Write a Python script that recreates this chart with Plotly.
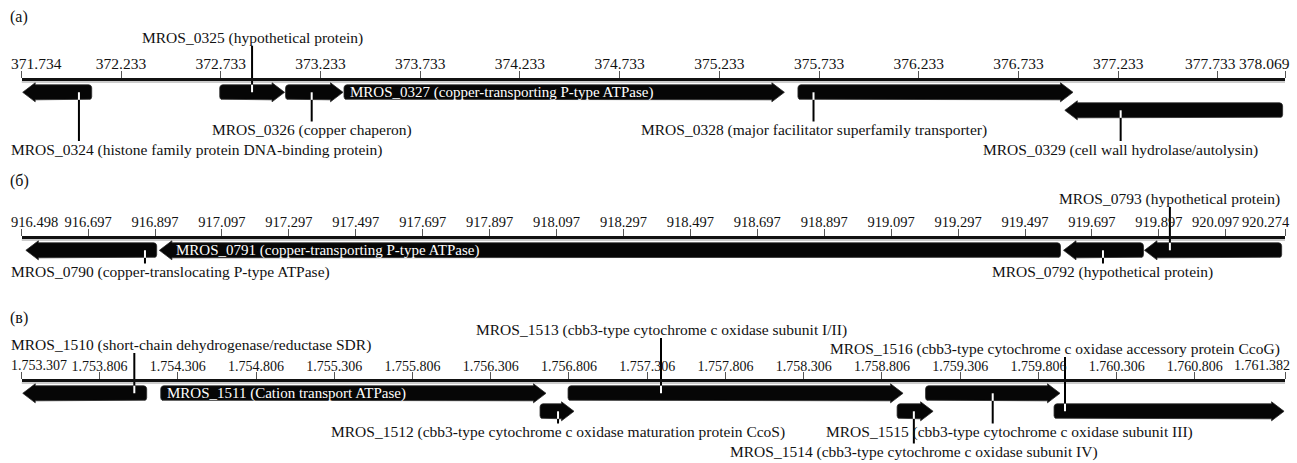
import math
import plotly.graph_objects as go

W, H = 1297, 463
PX0, PX1 = 21.5, 1285.0          # horizontal extent of every scale (px)
FONT = "Liberation Serif, Times New Roman, serif"

# ----------------------------- data -----------------------------
a_ticks = [371.734, 372.233, 372.733, 373.233, 373.733, 374.233, 374.733,
           375.233, 375.733, 376.233, 376.733, 377.233, 377.733, 378.069]
a_ticktext = ["371.734", "372.233", "372.733", "373.233", "373.733", "374.233", "374.733",
              "375.233", "375.733", "376.233", "376.733", "377.233", "377.733", "378.069"]
a_genes = ["MROS_0324", "MROS_0325", "MROS_0326", "MROS_0327", "MROS_0328", "MROS_0329"]
a_products = ["histone family protein DNA-binding protein", "hypothetical protein",
              "copper chaperon", "copper-transporting P-type ATPase",
              "major facilitator superfamily transporter", "cell wall hydrolase/autolysin"]
a_start = [371.740, 372.728, 373.058, 373.351, 375.627, 376.965]
a_end = [372.086, 373.053, 373.346, 375.559, 377.006, 378.057]
a_strand = [-1, 1, 1, 1, 1, -1]
a_track = [1, 1, 1, 1, 1, 2]

b_ticks = [916.498, 916.697, 916.897, 917.097, 917.297, 917.497, 917.697, 917.897,
           918.097, 918.297, 918.497, 918.697, 918.897, 919.097, 919.297, 919.497,
           919.697, 919.897, 920.097, 920.274]
b_ticktext = ["916.498", "916.697", "916.897", "917.097", "917.297", "917.497", "917.697",
              "917.897", "918.097", "918.297", "918.497", "918.697", "918.897", "919.097",
              "919.297", "919.497", "919.697", "919.897", "920.097", "920.274"]
b_genes = ["MROS_0790", "MROS_0791", "MROS_0792", "MROS_0793"]
b_products = ["copper-translocating P-type ATPase", "copper-transporting P-type ATPase",
              "hypothetical protein", "hypothetical protein"]
b_start = [916.511, 916.910, 919.612, 919.854]
b_end = [916.902, 919.603, 919.851, 920.264]
b_strand = [-1, -1, -1, -1]
b_track = [1, 1, 1, 1]

c_ticks = [1753.307, 1753.806, 1754.306, 1754.806, 1755.306, 1755.806, 1756.306,
           1756.806, 1757.306, 1757.806, 1758.306, 1758.806, 1759.306, 1759.806,
           1760.306, 1760.806, 1761.382]
c_ticktext = ["1.753.307", "1.753.806", "1.754.306", "1.754.806", "1.755.306", "1.755.806",
              "1.756.306", "1.756.806", "1.757.306", "1.757.806", "1.758.306", "1.758.806",
              "1.759.306", "1.759.806", "1.760.306", "1.760.806", "1.761.382"]
c_genes = ["MROS_1510", "MROS_1511", "MROS_1512", "MROS_1513", "MROS_1514", "MROS_1515",
           "MROS_1516"]
c_products = ["short-chain dehydrogenase/reductase SDR", "Cation transport ATPase",
              "cbb3-type cytochrome c oxidase maturation protein CcoS",
              "cbb3-type cytochrome c oxidase subunit I/II",
              "cbb3-type cytochrome c oxidase subunit IV",
              "cbb3-type cytochrome c oxidase subunit III",
              "cbb3-type cytochrome c oxidase accessory protein CcoG"]
c_start = [1753.315, 1754.197, 1756.621, 1756.800, 1758.903, 1759.085, 1759.906]
c_end = [1754.107, 1756.659, 1756.838, 1758.941, 1759.133, 1759.944, 1761.376]
c_strand = [-1, 1, 1, 1, 1, 1, 1]
c_track = [1, 1, 2, 1, 2, 1, 2]

# ----------------------------- layout / style -----------------------------
# label placement: leader position (kb), label centre y (px), alignment
LABELS = {
    "MROS_0324": dict(at=372.022, y=149.5, align="left"),
    "MROS_0325": dict(at=372.890, y=38),
    "MROS_0326": dict(at=373.189, y=130),
    "MROS_0327": dict(inside=True),
    "MROS_0328": dict(at=375.705, y=130),
    "MROS_0329": dict(at=377.245, y=149.5),
    "MROS_0790": dict(at=916.867, y=272, align="left"),
    "MROS_0791": dict(inside=True),
    "MROS_0792": dict(at=919.730, y=272),
    "MROS_0793": dict(at=919.930, y=199),
    "MROS_1510": dict(at=1754.028, y=345, align="left"),
    "MROS_1511": dict(inside=True),
    "MROS_1512": dict(at=1756.736, y=432),
    "MROS_1513": dict(at=1757.394, y=330),
    "MROS_1514": dict(at=1759.010, y=452),
    "MROS_1515": dict(at=1759.514, y=432, dx=17),
    "MROS_1516": dict(at=1759.976, y=349, dx=-10),
}

PANELS = [
    dict(ax="x", title="(a)", title_y=17, axis_y=79, tick_size=15.5,
         ticks=a_ticks, ticktext=a_ticktext, genes=a_genes, products=a_products,
         start=a_start, end=a_end, strand=a_strand, track=a_track),
    dict(ax="x2", title="(б)", title_y=181, axis_y=237, tick_size=14.5,
         ticks=b_ticks, ticktext=b_ticktext, genes=b_genes, products=b_products,
         start=b_start, end=b_end, strand=b_strand, track=b_track),
    dict(ax="x3", title="(в)", title_y=318, axis_y=380, tick_size=14,
         ticks=c_ticks, ticktext=c_ticktext, genes=c_genes, products=c_products,
         start=c_start, end=c_end, strand=c_strand, track=c_track),
]

TRACK_OFFSET = {1: 13.3, 2: 31.3}
BODY_HALF, HEAD_HALF, HEAD_LEN, RADIUS = 7.5, 9.5, 12.5, 3.0
LABEL_SIZE, INSIDE_SIZE = 15.5, 15
TICKLEN, TICKPAD, TICK_SHIFT = 7, -2, -4
EDGE_LEFT, EDGE_RIGHT = 9, 1292   # px bounds for the end-of-scale labels
TICK_GAP = 4
GENE_FILL = "#060606"


def num_width(txt, size):
    """Approximate width (px) of a numeric label in a Times-like font."""
    return size * sum(0.25 if ch == "." else 0.5 for ch in txt)


def arrow_px(s, e, strand, yc):
    """Arrow outline in pixel space (x px, y px)."""
    length = e - s
    L = min(HEAD_LEN, length * 0.7)
    r = RADIUS
    b, h = BODY_HALF, HEAD_HALF
    base = length - L
    xs, ys = [], []
    for k in range(6):
        t = math.radians(90 * k / 5)
        xs.append(r - r * math.cos(t)); ys.append(yc - b + r - r * math.sin(t))
    xs += [base, base, length, base, base]
    ys += [yc - b, yc - h, yc, yc + h, yc + b]
    for k in range(6):
        t = math.radians(90 * k / 5)
        xs.append(r - r * math.sin(t)); ys.append(yc + b - r + r * math.cos(t))
    xs.append(xs[0]); ys.append(ys[0])
    if strand > 0:
        xs = [s + x for x in xs]
    else:
        xs = [e - x for x in xs]
    return xs, ys


fig = go.Figure()
annotations = []

for i, p in enumerate(PANELS):
    r0, r1 = p["ticks"][0], p["ticks"][-1]
    kpp = (r1 - r0) / (PX1 - PX0)
    to_px = lambda v, r0=r0, kpp=kpp: PX0 + (v - r0) / kpp
    to_kb = lambda x, r0=r0, kpp=kpp: r0 + (x - PX0) * kpp
    ay = p["axis_y"]
    ts = p["tick_size"]
    tick_font = dict(family=FONT, size=ts, color="#111")
    label_y = ay - TICKLEN - TICKPAD
    axname = "xaxis" if i == 0 else f"xaxis{i + 1}"

    # end-of-scale labels are pulled inside the picture (drawn as annotations)
    shown = list(p["ticktext"])
    shown[0] = ""
    shown[-1] = ""
    annotations.append(dict(text=p["ticktext"][0], x=EDGE_LEFT / W, xref="paper",
                            y=label_y, yref="y", xanchor="left",
                            yanchor="bottom", showarrow=False, font=tick_font))
    annotations.append(dict(text=p["ticktext"][-1], x=EDGE_RIGHT / W, xref="paper",
                            y=label_y, yref="y", xanchor="right",
                            yanchor="bottom", showarrow=False, font=tick_font))
    # the next-to-last label gives way to the last one if they would collide
    last_left = EDGE_RIGHT - num_width(p["ticktext"][-1], ts)
    pen_txt = p["ticktext"][-2]
    pen_px = to_px(p["ticks"][-2])
    pen_w = num_width(pen_txt, ts)
    if pen_px + pen_w / 2 > last_left - TICK_GAP:
        shown[-2] = ""
        annotations.append(dict(text=pen_txt, x=(last_left - TICK_GAP) / W, xref="paper",
                                y=label_y, yref="y", xanchor="right", yanchor="bottom",
                                showarrow=False, font=tick_font))

    fig.update_layout({axname: dict(
        domain=[PX0 / W, PX1 / W], range=[r0, r1], side="top", anchor="free",
        position=1 - ay / H, showline=True, linecolor="#111", linewidth=2.5,
        ticks="outside", ticklen=TICKLEN, tickwidth=1, tickcolor="#555",
        ticklabelstandoff=TICK_SHIFT,
        tickvals=p["ticks"], ticktext=shown, showgrid=False, zeroline=False,
        automargin=False, tickfont=tick_font, fixedrange=True)})

    # thin grey track line under the scale
    fig.add_trace(go.Scatter(x=[r0, r1], y=[ay + 3, ay + 3], xaxis=p["ax"], yaxis="y",
                             mode="lines", line=dict(color="#9a9a9a", width=1.2),
                             hoverinfo="skip", showlegend=False))
    annotations.append(dict(text=p["title"], x=8 / W, xref="paper", y=p["title_y"], yref="y",
                            xanchor="left", yanchor="middle", showarrow=False,
                            font=dict(family=FONT, size=16, color="#111")))

    for g, prod, s, e, st, tr in zip(p["genes"], p["products"], p["start"], p["end"],
                                     p["strand"], p["track"]):
        yc = ay + TRACK_OFFSET[tr]
        xs, ys = arrow_px(to_px(s), to_px(e), st, yc)
        fig.add_trace(go.Scatter(x=[to_kb(x) for x in xs], y=ys, xaxis=p["ax"], yaxis="y",
                                 mode="lines", fill="toself", fillcolor=GENE_FILL,
                                 line=dict(color="#2a2a2a", width=0.8),
                                 hoverinfo="text", hovertext=f"{g} ({prod})",
                                 showlegend=False))
        lab = LABELS[g]
        text = f"{g} ({prod})"
        if lab.get("inside"):
            off = 4 if st > 0 else HEAD_LEN + 2
            annotations.append(dict(text=text, x=to_kb(to_px(s) + off), xref=p["ax"],
                                    y=yc, yref="y", xanchor="left", yanchor="middle",
                                    showarrow=False,
                                    font=dict(family=FONT, size=INSIDE_SIZE, color="white")))
            continue
        m = lab["at"]
        ly = lab["y"]
        if ly > yc:   # label below the gene
            black = [yc + BODY_HALF, ly - 8.5]
            white = [yc, yc + BODY_HALF]
        else:         # label above the gene
            black = [ly + 8, yc - BODY_HALF]
            white = [yc - BODY_HALF, yc]
        fig.add_trace(go.Scatter(x=[m, m], y=black, xaxis=p["ax"], yaxis="y", mode="lines",
                                 line=dict(color="#000", width=2), hoverinfo="skip",
                                 showlegend=False))
        fig.add_trace(go.Scatter(x=[m, m], y=white, xaxis=p["ax"], yaxis="y", mode="lines",
                                 line=dict(color="#fff", width=2), hoverinfo="skip",
                                 showlegend=False))
        if lab.get("align") == "left":
            annotations.append(dict(text=text, x=EDGE_LEFT / W, xref="paper", y=ly, yref="y",
                                    xanchor="left", yanchor="middle", showarrow=False,
                                    font=dict(family=FONT, size=LABEL_SIZE, color="#111")))
        else:
            annotations.append(dict(text=text, x=to_kb(to_px(m) + lab.get("dx", 0)),
                                    xref=p["ax"], y=ly, yref="y", xanchor="center",
                                    yanchor="middle", showarrow=False,
                                    font=dict(family=FONT, size=LABEL_SIZE, color="#111")))

fig.update_layout(
    width=W, height=H, margin=dict(l=0, r=0, t=0, b=0, autoexpand=False),
    paper_bgcolor="white", plot_bgcolor="rgba(0,0,0,0)",
    yaxis=dict(domain=[0, 1], range=[H, 0], visible=False, fixedrange=True,
               automargin=False),
    annotations=annotations, showlegend=False,
)

fig.write_html("out.html", config={"displayModeBar": False},
               post_script="document.body.style.margin='0';document.body.style.overflow='hidden';")
